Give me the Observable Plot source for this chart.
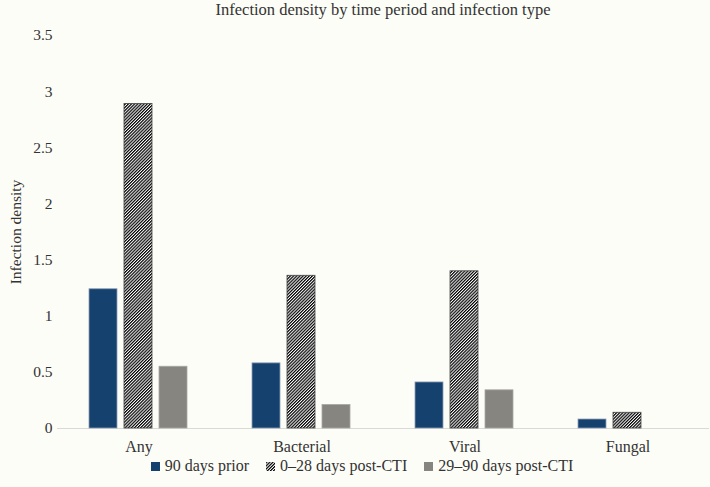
<!DOCTYPE html>
<html>
<head>
<meta charset="utf-8">
<script src="https://cdn.jsdelivr.net/npm/d3@7"></script>
<script src="https://cdn.jsdelivr.net/npm/@observablehq/plot@0.6"></script>
<style>
  html, body { margin: 0; padding: 0; background: #fdfdf7; }
  body { width: 710px; height: 487px; overflow: hidden; font-family: "Liberation Serif", serif; color: #333; }
  #title { margin-left: 57px; width: 652px; height: 20px; line-height: 20px; text-align: center; font-size: 16.5px; color: #333; font-family: "Liberation Serif", serif; }
  #legend { display: flex; justify-content: center; align-items: center; gap: 17px; height: 16px; line-height: 16px; font-size: 16px; color: #333; padding-left: 14px; font-family: "Liberation Serif", serif; }
  #legend .item { display: flex; align-items: center; gap: 5px; }
  #legend svg { display: block; }
</style>
</head>
<body>
<svg width="0" height="0" style="position:absolute">
  <defs>
    <pattern id="hatch" width="2.2" height="2.2" patternUnits="userSpaceOnUse" patternTransform="rotate(45)">
      <rect width="2.2" height="2.2" fill="#ffffff"></rect>
      <rect width="1.2" height="2.2" fill="#000000"></rect>
    </pattern>
  </defs>
</svg>
<div id="title">Infection density by time period and infection type</div>
<div id="chart"></div>
<div id="legend"></div>
<script>
const categories = ["Any", "Bacterial", "Viral", "Fungal"];
const series = ["90 days prior", "0–28 days post-CTI", "29–90 days post-CTI"];
const prior90 = [1.24, 0.58, 0.41, 0.08];
const post0to28 = [2.89, 1.36, 1.40, 0.14];
const post29to90 = [0.55, 0.21, 0.34, 0];
const yTicks = [0, 0.5, 1, 1.5, 2, 2.5, 3, 3.5];

const seriesValues = [prior90, post0to28, post29to90];
const fills = ["#15416f", "url(#hatch)", "#878580"];
const strokes = ["#8e9cb3", "#444444", "#a9a8a4"];

const rows = [];
categories.forEach((c, i) => {
  series.forEach((s, j) => rows.push({category: c, series: s, value: seriesValues[j][i]}));
});

const barMarks = series.map((s, j) =>
  Plot.barY(rows.filter(d => d.series === s && d.value > 0), {
    fx: "category", x: "series", y: "value",
    fill: fills[j], stroke: strokes[j], strokeWidth: 0.8, inset: 0
  })
);

const chart = Plot.plot({
  width: 710,
  height: 438,
  marginTop: 15,
  marginBottom: 30,
  marginLeft: 57,
  marginRight: 1,
  style: {fontFamily: "'Liberation Serif', serif", fontSize: "15px", background: "transparent", color: "#333", overflow: "visible"},
  fx: {domain: categories, padding: 0, label: null, axis: null},
  x: {domain: series, paddingInner: 0.194, paddingOuter: 0.861, axis: null},
  y: {domain: [0, 3.5]},
  marks: [
    Plot.axisY({ticks: yTicks, tickFormat: d => String(d), tickSize: 0, tickPadding: 5, label: "Infection density", labelArrow: "none", labelAnchor: "center", labelOffset: 48, fontSize: 15.5}),
    Plot.axisFx({anchor: "bottom", tickSize: 0, tickPadding: 12, label: null, fontSize: 16}),
    Plot.ruleY([0], {stroke: "#d9d9d9", strokeWidth: 1}),
    ...barMarks
  ]
});
document.getElementById("chart").appendChild(chart);

const legend = document.getElementById("legend");
series.forEach((s, j) => {
  const item = document.createElement("div");
  item.className = "item";
  const sw = document.createElementNS("http://www.w3.org/2000/svg", "svg");
  sw.setAttribute("width", "9");
  sw.setAttribute("height", "9");
  const r = document.createElementNS("http://www.w3.org/2000/svg", "rect");
  r.setAttribute("width", "9");
  r.setAttribute("height", "9");
  r.setAttribute("fill", fills[j]);
  sw.appendChild(r);
  item.appendChild(sw);
  const t = document.createElement("span");
  t.textContent = s;
  item.appendChild(t);
  legend.appendChild(item);
});
</script>
</body>
</html>
